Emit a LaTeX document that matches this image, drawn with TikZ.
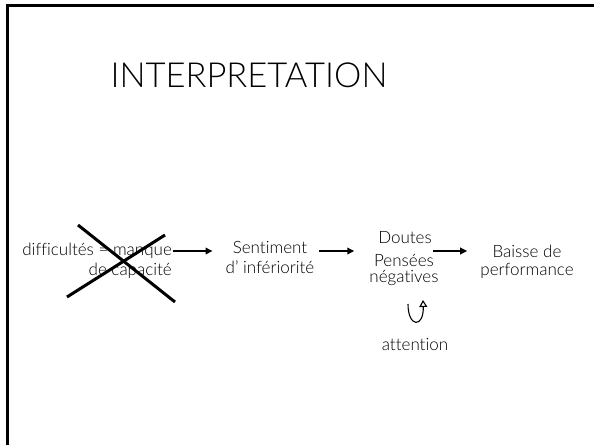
\documentclass[tikz,border=0pt]{standalone}
\usepackage{fontspec}
\setmainfont{Lato}[Ligatures={NoCommon}, UprightFont={* Light}]
\usetikzlibrary{arrows.meta}
\tikzset{
  label/.style={font=\fontsize{17}{20}\selectfont, text=black, inner sep=1pt, align=center},
  flow/.style={line width=2pt, -{Triangle[length=7pt,width=6.5pt]}},
  cross/.style={line width=3pt},
}
\begin{document}
\begin{tikzpicture}[x=1pt,y=-1pt]
\useasboundingbox (0,0) rectangle (594,445);
% frame of the slide
\draw [line width=3pt] (7,445) -- (7,5) -- (594,5);

% title
\node (title) [anchor=base, font=\fontsize{34.5}{38}\selectfont, text=black] at (249,87) {INTERPRETATION};

% the chain
\node (diff) [label, align=right, anchor=base east] at (173,275) {difficultés = manque\\de capacité};
\node (sent) [label, anchor=base] at (270,273) {Sentiment\\d’ infériorité};
\node (doutes) [label, anchor=base] at (405,243) {Doutes};
\node (pensees) [label, anchor=base, font=\fontsize{17}{16}\selectfont] at (404,282) {Pensées\\négatives};
\node (baisse) [label, anchor=base, font=\fontsize{17}{18}\selectfont] at (527,275) {Baisse de\\performance};
\node (attn) [label, anchor=base] at (415,350) {attention};

% crossing out
\draw [cross] (78,225) -- (175,302);
\draw [cross] (67,297) -- (165,235);

% arrows
\draw [flow, shorten >=12pt] (diff.east |- 0,251) -- (sent.west |- 0,251);
\draw [flow, shorten <=4pt, shorten >=14pt] (sent.east |- 0,251) -- (pensees.west |- 0,251);
\draw [flow] (doutes.east |- 0,251) -- ([xshift=-12pt]baisse.west |- 0,251);

% loop under the thoughts
\coordinate (loopA) at (408,304);
\coordinate (loopB) at (423,300);
\draw [line width=1.1pt, -{Triangle[open,length=7pt,width=8pt]}] (loopA) .. controls (408,328) and (424,328) .. (loopB);
\end{tikzpicture}
\end{document}
